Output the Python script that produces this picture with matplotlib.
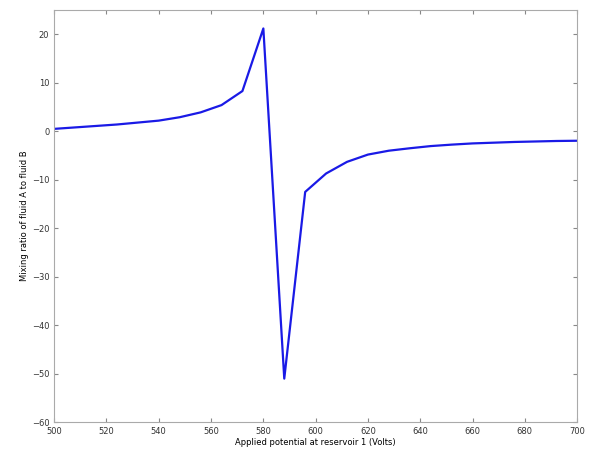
import numpy as np
import matplotlib.pyplot as plt

# applied potential (V) and mixing ratio
volts = [500, 508, 516, 524, 532, 540, 548, 556, 564, 572, 580, 588, 596,
         604, 612, 620, 628, 636, 644, 652, 660, 668, 676, 684, 692, 700]
ratio = [0.5, 0.8, 1.1, 1.4, 1.8, 2.2, 2.9, 3.9, 5.4, 8.3, 21.2, -51.0, -12.5,
         -8.7, -6.3, -4.8, -4.0, -3.5, -3.05, -2.75, -2.5, -2.35, -2.2, -2.1, -2.0, -1.95]

fig = plt.figure(figsize=(5.95, 4.57), dpi=100)
ax = fig.add_axes([0.091, 0.076, 0.879, 0.902])
ax.plot(volts, ratio, color='#1a1ae6', linewidth=1.6)

ax.set_xlim(500, 700)
ax.set_ylim(-60, 25)
ax.set_xticks(np.arange(500, 701, 20))
ax.set_yticks(np.arange(-60, 21, 10))
ax.tick_params(direction='in', length=3, labelsize=6, color='#888888',
               top=True, right=True, labelcolor='#333333')
for s in ax.spines.values():
    s.set_color('#aaaaaa')
    s.set_linewidth(0.8)

ax.set_xlabel('Applied potential at reservoir 1 (Volts)', fontsize=6, labelpad=1)
ax.set_ylabel('Mixing ratio of fluid A to fluid B', fontsize=6, labelpad=2)

plt.savefig('out.png', dpi=100)
